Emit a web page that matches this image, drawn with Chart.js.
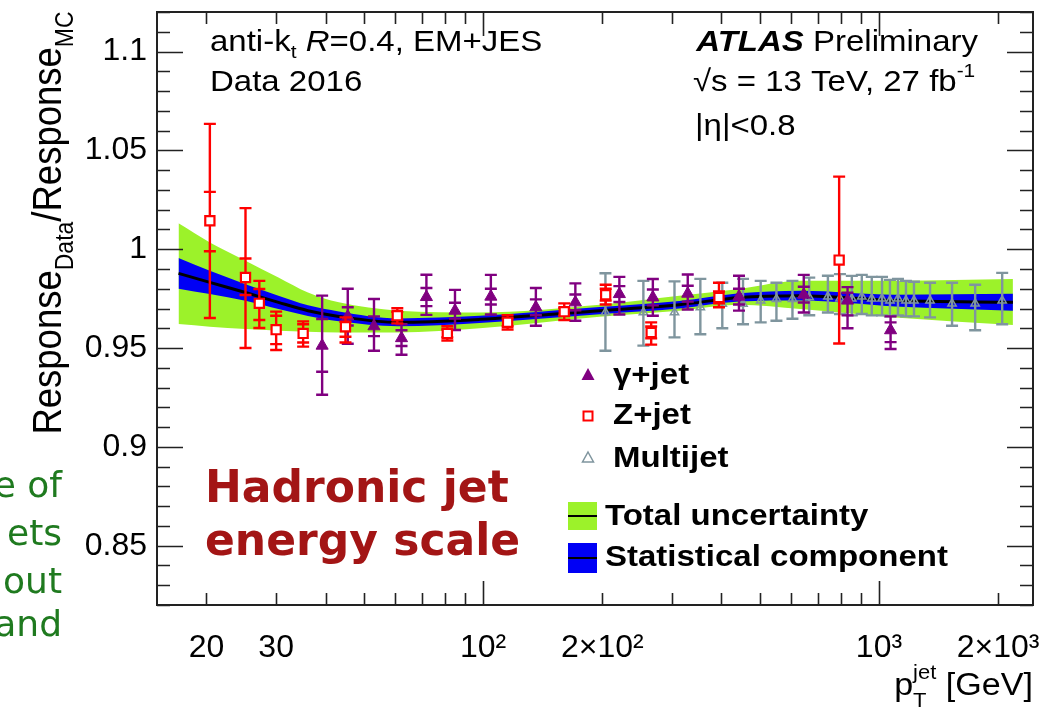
<!DOCTYPE html>
<html><head><meta charset="utf-8">
<script src="https://cdn.jsdelivr.net/npm/chart.js@4.4.0/dist/chart.umd.min.js"></script>
<style>html,body{margin:0;padding:0;background:#fff;overflow:hidden}#wrap{width:1060px;height:710px;position:relative}</style>
</head><body><div id="wrap"><canvas id="c" width="1060" height="710"></canvas></div>
<script>
// ---- Band (fit) ----
const bandX       = [17, 20.4, 25.1, 30.4, 36.1, 43.2, 61, 98, 197, 313, 444, 633, 1099, 2180];
const bandCentral = [0.9878, 0.9832, 0.9781, 0.9731, 0.9689, 0.9660, 0.9630, 0.9645, 0.9689, 0.9719, 0.9756, 0.9765, 0.9740, 0.9731];
const bandTotUp   = [1.0131, 1.0034, 0.9942, 0.9857, 0.9781, 0.9731, 0.9689, 0.9680, 0.9719, 0.9765, 0.9799, 0.9840, 0.9840, 0.9849];
const bandTotDn   = [0.9621, 0.9608, 0.9596, 0.9588, 0.9583, 0.9579, 0.9579, 0.9600, 0.9658, 0.9689, 0.9719, 0.9697, 0.9655, 0.9616];
const bandStat    = [0.0078, 0.0059, 0.0042, 0.0034, 0.0027, 0.0025, 0.0020, 0.0018, 0.0018, 0.0019, 0.0021, 0.0025, 0.0030, 0.0043];

// ---- gamma+jet ----
const gammaX      = [39.2, 45.5, 53.0, 62.2, 71.9, 84.9, 104.6, 135.9, 171, 220.9, 268.4, 328.8, 443, 645.7, 833, 1070];
const gammaY      = [0.9512, 0.9660, 0.9610, 0.9550, 0.9758, 0.9689, 0.9760, 0.9706, 0.9731, 0.9773, 0.9756, 0.9775, 0.9760, 0.9770, 0.9740, 0.9590];
const gammaTotUp  = [0.0253, 0.0140, 0.0138, 0.0070, 0.0113, 0.0105, 0.0110, 0.0098, 0.0096, 0.0087, 0.0093, 0.0097, 0.0106, 0.0100, 0.0068, 0.0070];
const gammaTotDn  = [0.0248, 0.0138, 0.0124, 0.0084, 0.0090, 0.0098, 0.0090, 0.0093, 0.0093, 0.0103, 0.0093, 0.0080, 0.0071, 0.0090, 0.0140, 0.0095];
const gammaStatUp = [0.0135, 0.0046, 0.0050, 0.0040, 0.0046, 0.0040, 0.0040, 0.0040, 0.0040, 0.0040, 0.0040, 0.0040, 0.0040, 0.0040, 0.0040, 0.0040];
const gammaStatDn = [0.0132, 0.0046, 0.0050, 0.0040, 0.0046, 0.0040, 0.0040, 0.0040, 0.0040, 0.0040, 0.0040, 0.0040, 0.0040, 0.0040, 0.0075, 0.0060];

// ---- Z+jet ----
const zX      = [20.4, 25.1, 27.2, 30.0, 35.1, 44.9, 60.7, 81.2, 115.3, 160.3, 204, 265.8, 394.3, 793.3];
const zY      = [1.0144, 0.9857, 0.9726, 0.9593, 0.9574, 0.9608, 0.9663, 0.9574, 0.9630, 0.9684, 0.9770, 0.9579, 0.9756, 0.9945];
const zTotUp  = [0.0490, 0.0351, 0.0114, 0.0091, 0.0061, 0.0047, 0.0038, 0.0036, 0.0036, 0.0042, 0.0050, 0.0051, 0.0074, 0.0422];
const zTotDn  = [0.0492, 0.0357, 0.0125, 0.0103, 0.0067, 0.0080, 0.0038, 0.0036, 0.0036, 0.0042, 0.0050, 0.0062, 0.0050, 0.0422];
const zStatUp = [0.0146, 0.0096, 0.0073, 0.0070, 0.0046, 0.0025, 0.0020, 0.0020, 0.0020, 0.0020, 0.0030, 0.0030, 0.0030, 0.0422];
const zStatDn = [0.0154, 0.0089, 0.0084, 0.0073, 0.0046, 0.0051, 0.0020, 0.0020, 0.0020, 0.0020, 0.0030, 0.0030, 0.0030, 0.0422];

// ---- Multijet ----
const mjX     = [203.7, 254, 304.4, 353.8, 402, 453.5, 502.6, 550.8, 604.6, 666.7, 743, 797, 854, 905, 959, 1018, 1066, 1117, 1170, 1226, 1346, 1530, 1750, 2048];
const mjY     = [0.968, 0.968, 0.968, 0.9706, 0.9723, 0.9723, 0.974, 0.9748, 0.9748, 0.9756, 0.976, 0.975, 0.975, 0.976, 0.975, 0.975, 0.974, 0.975, 0.974, 0.974, 0.974, 0.9725, 0.9725, 0.974];
const mjTotUp = [0.0198, 0.0160, 0.0157, 0.0144, 0.0107, 0.0127, 0.0100, 0.0082, 0.0092, 0.0100, 0.0106, 0.0124, 0.0115, 0.0110, 0.0110, 0.0110, 0.0105, 0.0100, 0.0100, 0.0095, 0.0090, 0.0105, 0.0095, 0.0140];
const mjTotDn = [0.0194, 0.0168, 0.0126, 0.0136, 0.0123, 0.0103, 0.0110, 0.0110, 0.0100, 0.0090, 0.0080, 0.0078, 0.0085, 0.0088, 0.0085, 0.0085, 0.0080, 0.0085, 0.0080, 0.0080, 0.0085, 0.0112, 0.0135, 0.0120];

// ---- axis ticks ----
const xTickVals = [20,30,40,50,60,70,80,90,100,200,300,400,500,600,700,800,900,1000,2000];
const xMajorTicks = [100, 1000];
const xTickText = {20:'20', 30:'30', 100:'10\u00B2', 200:'2\u00D710\u00B2', 1000:'10\u00B3', 2000:'2\u00D710\u00B3'};
const yTickVals = [0.85, 0.9, 0.95, 1, 1.05, 1.1];

const GREEN = '#9cf22a', BLUE = '#0000f5', PURPLE = '#800080', RED = '#ff0000', GREY = '#7f959e';
const SANS = '"Liberation Sans", Arial, Helvetica, sans-serif';
const SX = 1.1; // horizontal stretch of the reference's text

function pts(xs, ys){ return xs.map((x,i)=>({x:x, y:ys[i]})); }
function errs(tu, td, su, sd){ return tu.map((v,i)=>({tu:v, td:td[i], su: su? su[i] : null, sd: sd? sd[i] : null})); }

function rich(ctx, x, y, parts, align, sx){
  sx = sx || 1;
  let w = 0;
  parts.forEach(p=>{ ctx.font = p.f; p.w = (p.adv !== undefined) ? p.adv : ctx.measureText(p.t).width; w += p.w; });
  ctx.save(); ctx.translate(x, y); ctx.scale(sx, 1);
  let cx = align === 'right' ? -w : align === 'center' ? -w/2 : 0;
  parts.forEach(p=>{ ctx.font = p.f; ctx.fillText(p.t, cx + (p.dx||0), (p.dy||0)); cx += p.w; });
  ctx.restore();
}

const errBars = {
  id:'errBars',
  beforeDatasetDraw(chart, args){
    const ds = chart.data.datasets[args.index];
    if(!ds.err) return;
    const ctx = chart.ctx, ys = chart.scales.y, meta = args.meta, a = chart.chartArea;
    ctx.save();
    ctx.beginPath(); ctx.rect(a.left, a.top, a.right-a.left, a.bottom-a.top); ctx.clip();
    ctx.strokeStyle = ds.errColor; ctx.lineWidth = 2.4;
    const hw = ds.capHalf;
    ds.err.forEach((e,i)=>{
      const el = meta.data[i]; if(!el) return;
      const x = el.x, v = ds.data[i].y;
      const yu = ys.getPixelForValue(v + e.tu), yd = ys.getPixelForValue(v - e.td);
      ctx.beginPath();
      ctx.moveTo(x, yu); ctx.lineTo(x, yd);
      ctx.moveTo(x-hw, yu); ctx.lineTo(x+hw, yu);
      ctx.moveTo(x-hw, yd); ctx.lineTo(x+hw, yd);
      if(e.su !== null && e.su < e.tu){ const s = ys.getPixelForValue(v + e.su); ctx.moveTo(x-hw, s); ctx.lineTo(x+hw, s); }
      if(e.sd !== null && e.sd < e.td){ const s = ys.getPixelForValue(v - e.sd); ctx.moveTo(x-hw, s); ctx.lineTo(x+hw, s); }
      ctx.stroke();
    });
    ctx.restore();
  }
};

const frame = {
  id:'frame',
  afterDatasetsDraw(chart){
    const ctx = chart.ctx, a = chart.chartArea, xs = chart.scales.x, ys = chart.scales.y;
    ctx.save();
    ctx.strokeStyle = '#222'; ctx.lineWidth = 2;
    ctx.strokeRect(a.left, a.top, a.right-a.left, a.bottom-a.top);
    ctx.lineWidth = 1.6;
    ctx.beginPath();
    xTickVals.forEach(v=>{
      const px = Math.round(xs.getPixelForValue(v)) + 0.5;
      const L = xMajorTicks.includes(v) ? 24 : 12;
      ctx.moveTo(px, a.bottom); ctx.lineTo(px, a.bottom - L);
      ctx.moveTo(px, a.top); ctx.lineTo(px, a.top + L);
    });
    for(let k = 82; k <= 112; k++){
      const v = k/100;
      const py = Math.round(ys.getPixelForValue(v)) + 0.5;
      const L = (k % 5 === 0) ? 26 : 13;
      ctx.moveTo(a.left, py); ctx.lineTo(a.left + L, py);
      ctx.moveTo(a.right, py); ctx.lineTo(a.right - L, py);
    }
    ctx.stroke();
    ctx.restore();
  }
};

const texts = {
  id:'texts',
  afterDraw(chart){
    const ctx = chart.ctx;
    ctx.save();
    ctx.fillStyle = '#000'; ctx.textBaseline = 'alphabetic';
    const F = s => s + 'px ' + SANS;
    const FB = s => 'bold ' + s + 'px ' + SANS;
    const FI = s => 'italic ' + s + 'px ' + SANS;
    const FBI = s => 'italic bold ' + s + 'px ' + SANS;
    rich(ctx, 210, 51, [{t:'anti-k', f:F(30)}, {t:'t', f:F(19), dy:7}, {t:' ', f:F(30)}, {t:'R', f:FI(30)}, {t:'=0.4, EM+JES', f:F(30)}], 'left', SX);
    rich(ctx, 210, 91, [{t:'Data 2016', f:F(30)}], 'left', SX);
    rich(ctx, 978, 51, [{t:'ATLAS', f:FBI(30)}, {t:' Preliminary', f:F(30)}], 'right', SX);
    rich(ctx, 693, 91, [{t:'\u221As = 13 TeV, 27 fb', f:F(30)}, {t:'-1', f:F(19), dy:-14}], 'left', SX);
    rich(ctx, 695, 135, [{t:'|\u03B7|<0.8', f:F(30)}], 'left', SX);
    // y axis title
    ctx.save();
    ctx.translate(61, 223); ctx.rotate(-Math.PI/2); ctx.scale(1, SX);
    rich(ctx, 0, 0, [{t:'Response', f:F(36.5)}, {t:'Data', f:F(23), dy:11}, {t:'/Response', f:F(36.5)}, {t:'MC', f:F(23), dy:11}], 'center');
    ctx.restore();
    // x axis title
    rich(ctx, 1033, 695, [{t:'p', f:F(31)}, {t:'T', f:F(20), dy:12, adv:0}, {t:'jet', f:F(20), dy:-16}, {t:' [GeV]', f:F(31)}], 'right', SX);
    // legend
    const lf = FB(30);
    ctx.fillStyle = PURPLE;
    ctx.beginPath(); ctx.moveTo(588, 368); ctx.lineTo(594.5, 380); ctx.lineTo(581.5, 380); ctx.closePath(); ctx.fill();
    ctx.strokeStyle = RED; ctx.lineWidth = 2; ctx.fillStyle = '#fff';
    ctx.fillRect(583.5, 411.5, 9, 9); ctx.strokeRect(583.5, 411.5, 9, 9);
    ctx.strokeStyle = GREY; ctx.lineWidth = 1.5;
    ctx.beginPath(); ctx.moveTo(588, 452); ctx.lineTo(593.5, 462); ctx.lineTo(582.5, 462); ctx.closePath(); ctx.stroke();
    ctx.fillStyle = '#000';
    rich(ctx, 613, 384, [{t:'\u03B3+jet', f:lf}], 'left', SX);
    rich(ctx, 613, 424, [{t:'Z+jet', f:lf}], 'left', SX);
    rich(ctx, 613, 467, [{t:'Multijet', f:lf}], 'left', SX);
    ctx.fillStyle = GREEN; ctx.fillRect(568, 502, 29, 28);
    ctx.fillStyle = BLUE; ctx.fillRect(568, 543, 29, 30);
    ctx.strokeStyle = '#000'; ctx.lineWidth = 2;
    ctx.beginPath(); ctx.moveTo(568, 516); ctx.lineTo(597, 516); ctx.moveTo(568, 558); ctx.lineTo(597, 558); ctx.stroke();
    ctx.fillStyle = '#000';
    rich(ctx, 605, 525, [{t:'Total uncertainty', f:lf}], 'left', SX);
    rich(ctx, 605, 566, [{t:'Statistical component', f:lf}], 'left', SX);
    // slide overlay text
    ctx.fillStyle = '#a31515';
    ctx.font = 'bold 44px "DejaVu Sans", Verdana, sans-serif';
    ctx.fillText('Hadronic jet', 205, 502);
    ctx.fillText('energy scale', 205, 555);
    ctx.fillStyle = '#1f7a1f';
    ctx.font = '36px "DejaVu Sans", Verdana, sans-serif';
    ctx.textAlign = 'right';
    ctx.fillText('e of', 62, 497);
    ctx.fillText('ets', 62, 545);
    ctx.fillText('out', 62, 593);
    ctx.fillText('and', 62, 636);
    ctx.restore();
  }
};

const lineDs = (ys, extra) => Object.assign({type:'line', data: pts(bandX, ys), pointRadius:0, borderWidth:0,
  cubicInterpolationMode:'monotone', showLine:true}, extra);

new Chart(document.getElementById('c').getContext('2d'), {
  type:'scatter',
  data:{ datasets:[
    lineDs(bandTotUp, {fill:'+1', backgroundColor:GREEN, borderColor:GREEN, order:10}),
    lineDs(bandTotDn, {fill:false, borderColor:GREEN, order:9}),
    lineDs(bandCentral.map((c,i)=>c+bandStat[i]), {fill:'+1', backgroundColor:BLUE, borderColor:BLUE, order:8}),
    lineDs(bandCentral.map((c,i)=>c-bandStat[i]), {fill:false, borderColor:BLUE, order:7}),
    lineDs(bandCentral, {fill:false, borderColor:'#000', borderWidth:3, order:6}),
    {label:'Multijet', order:3, data: pts(mjX, mjY), err: errs(mjTotUp, mjTotDn), errColor: GREY, capHalf:6,
      pointStyle:'triangle', pointRadius:4.8, pointBackgroundColor:'rgba(255,255,255,0)', pointBorderColor:GREY, pointBorderWidth:1.5},
    {label:'gamma+jet', order:2, data: pts(gammaX, gammaY), err: errs(gammaTotUp, gammaTotDn, gammaStatUp, gammaStatDn), errColor: PURPLE, capHalf:6,
      pointStyle:'triangle', pointRadius:7, pointBackgroundColor:PURPLE, pointBorderColor:PURPLE, pointBorderWidth:1},
    {label:'Z+jet', order:1, data: pts(zX, zY), err: errs(zTotUp, zTotDn, zStatUp, zStatDn), errColor: RED, capHalf:6,
      pointStyle:'rect', pointRadius:6.5, pointBackgroundColor:'#fff', pointBorderColor:RED, pointBorderWidth:2.2}
  ]},
  options:{
    responsive:false, animation:false, devicePixelRatio:1,
    layout:{padding:{left:0, right:27, top:12, bottom:0}},
    plugins:{legend:{display:false}, tooltip:{enabled:false}},
    scales:{
      x:{type:'logarithmic', min:15, max:2450,
        afterBuildTicks: s => { s.ticks = xTickVals.map(v=>({value:v})); },
        afterFit: s => { s.height = 105; s.paddingLeft = 0; s.paddingRight = 0; },
        grid:{display:false, drawTicks:false}, border:{display:false},
        ticks:{autoSkip:false, maxRotation:0, minRotation:0, padding:24, color:'#000',
          font:{family:SANS, size:32}, callback: v => xTickText[v] || ''}},
      y:{type:'linear', min:0.82, max:1.12,
        afterBuildTicks: s => { s.ticks = yTickVals.map(v=>({value:v})); },
        afterFit: s => { s.width = 157; s.paddingTop = 0; s.paddingBottom = 0; },
        grid:{display:false, drawTicks:false}, border:{display:false},
        ticks:{padding:10, color:'#000', font:{family:SANS, size:32},
          callback: v => String(Number(v.toFixed(2)))}}
    }
  },
  plugins:[errBars, frame, texts]
});
</script></body></html>
